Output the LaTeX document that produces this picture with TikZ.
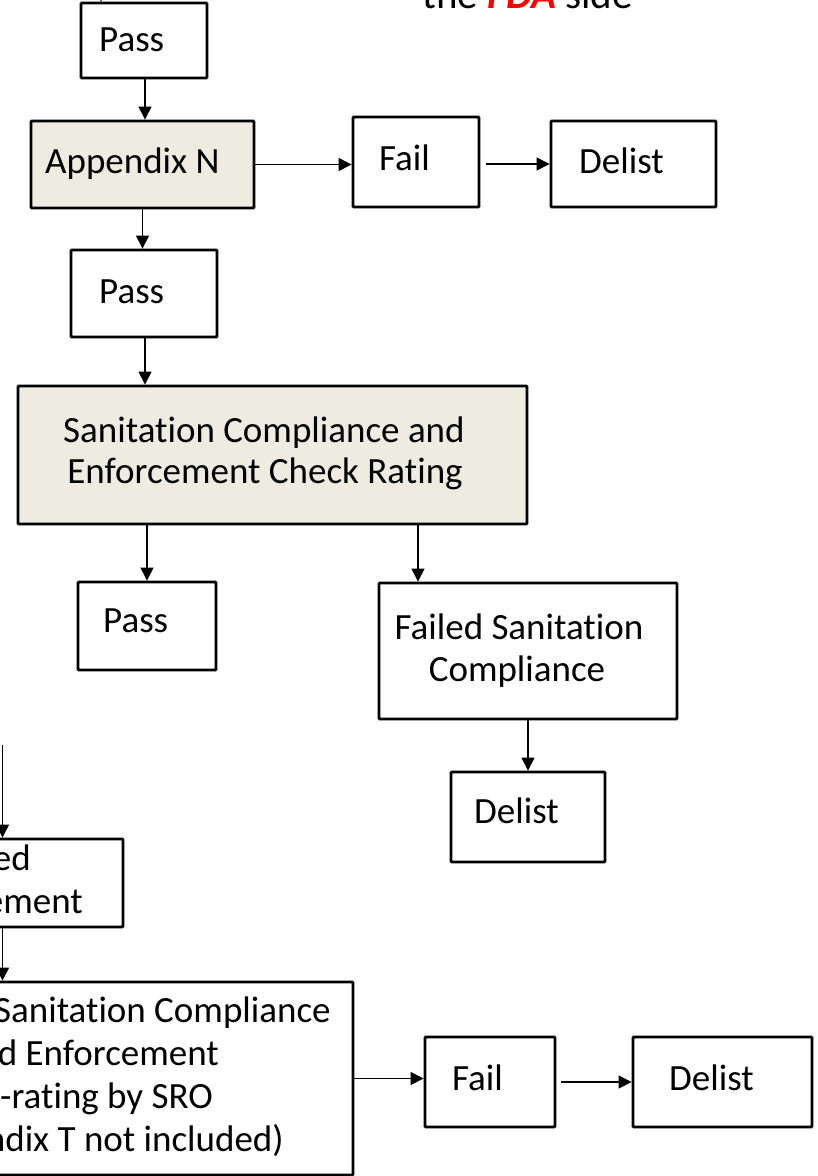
\documentclass[tikz,border=0pt]{standalone}
\usepackage{fontspec}
\setmainfont[Ligatures=NoCommon]{Carlito}
\usetikzlibrary{arrows.meta}
\definecolor{tanbg}{HTML}{EEECE1}
\definecolor{fdared}{HTML}{FF0000}
\begin{document}
\begin{tikzpicture}[x=1pt,y=-1pt,
  box/.style={draw, line width=2.9pt, rounded corners=1pt, inner sep=0pt, minimum width=#1},
  tanbox/.style={box=#1, fill=tanbg},
  txt/.style={inner sep=0pt, font=\fontsize{37pt}{43pt}\selectfont},
  arr/.style={line width=1.4pt, -{Triangle[length=13pt,width=13pt]}},
  ln/.style={line width=1.4pt}]
\useasboundingbox (0,0) rectangle (818,1176);
\fill[white] (0,0) rectangle (818,1176);
\clip (0,0) rectangle (818,1176);

% title (cut off at the top)
\node[txt, font=\fontsize{41pt}{47pt}\selectfont, anchor=base east] (title) at (633,8)
  {the \textcolor{fdared}{\textbf{\textit{FDA}}} side};

% boxes
\node[box=126pt, minimum height=75pt] (pass1) at (144,40.5) {};
\node[tanbox=223pt, minimum height=87pt] (appN) at (142.5,164.5) {};
\node[box=126pt, minimum height=90pt] (fail1) at (416,162) {};
\node[box=165pt, minimum height=86pt] (delist1) at (633.5,164) {};
\node[box=146pt, minimum height=87pt] (pass2) at (144,293.5) {};
\node[tanbox=509pt, minimum height=138pt] (san) at (272.5,455) {};
\node[box=138pt, minimum height=88pt] (pass3) at (147,626) {};
\node[box=298pt, minimum height=136pt] (failsan) at (528,651) {};
\node[box=154pt, minimum height=90pt] (delist2) at (528,817) {};
\node[box=183pt, minimum height=88pt] (edbox) at (31.5,883) {};
\node[box=453pt, minimum height=193pt] (big) at (126.5,1078.5) {};
\node[box=130pt, minimum height=90pt] (fail2) at (490,1082) {};
\node[box=179pt, minimum height=90pt] (delist3) at (722.5,1082) {};

% texts
\node[txt, anchor=base west] (tpass1) at (99,51) {Pass};
\node[txt, anchor=base west] (tappN) at (45,173) {Appendix N};
\node[txt, anchor=base west] (tfail1) at (379,170) {Fail};
\node[txt, anchor=base west] (tdelist1) at (579,173) {Delist};
\node[txt, anchor=base west] (tpass2) at (99,303) {Pass};
\node[txt, anchor=base] (tsan1) at (264,442) {Sanitation Compliance and};
\node[txt, anchor=base] (tsan2) at (265,483) {Enforcement Check Rating};
\node[txt, anchor=base west] (tpass3) at (103,632) {Pass};
\node[txt, anchor=base] (tfs1) at (519,639) {Failed Sanitation};
\node[txt, anchor=base] (tfs2) at (517,681) {Compliance};
\node[txt, anchor=base west] (tdelist2) at (474,823) {Delist};
\node[txt, anchor=base east] (ted1) at (31,870) {ed};
\node[txt, anchor=base east] (ted2) at (83,913) {ement};
\node[txt, anchor=base east] (tbig1) at (331,1022) {Sanitation Compliance};
\node[txt, anchor=base east] (tbig2) at (219,1065) {d Enforcement};
\node[txt, anchor=base east] (tbig3) at (213,1108) {-rating by SRO};
\node[txt, anchor=base east] (tbig4) at (284,1151) {ndix T not included)};
\node[txt, anchor=base west] (tfail2) at (452,1090) {Fail};
\node[txt, anchor=base west] (tdelist3) at (669,1090) {Delist};

% connectors
\coordinate (intop) at (101,-30);
\draw[arr] (intop) -- (intop |- pass1.north);
\draw[arr] ([xshift=1pt]pass1.south) -- ([xshift=1pt]pass1.south |- appN.north);
\draw[arr] (appN.east) -- (appN.east -| fail1.west);
\draw[arr] ([xshift=6pt]fail1.east |- delist1.west) -- (delist1.west);
\draw[arr] (appN.south) -- (appN.south |- pass2.north);
\draw[arr] ([xshift=1pt]pass2.south) -- ([xshift=1pt]pass2.south |- san.north);
\draw[arr] (pass3.north |- san.south) -- (pass3.north);
\draw[arr] ([xshift=-110pt]failsan.north |- san.south) -- ([xshift=-110pt]failsan.north);
\draw[arr] (failsan.south) -- (delist2.north);
\coordinate (lefttop) at (2.5,745);
\draw[arr] (lefttop) -- (lefttop |- edbox.north);
\draw[arr] (lefttop |- edbox.south) -- (lefttop |- big.north);
\draw[arr] (big.east) -- (big.east -| fail2.west);
\draw[arr] ([xshift=5pt]fail2.east |- delist3.west) -- (delist3.west);
\end{tikzpicture}
\end{document}
